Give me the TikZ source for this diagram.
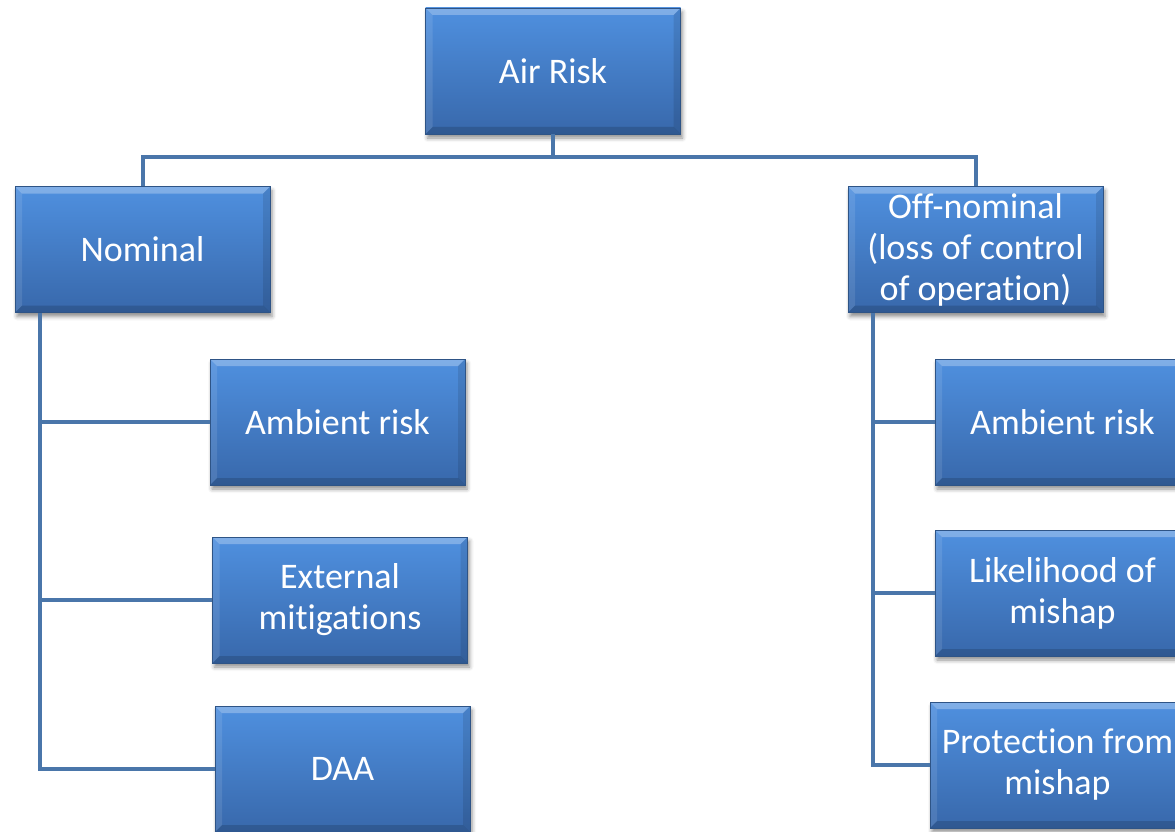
\documentclass[tikz,border=0pt]{standalone}
\usepackage{fontspec}
\setmainfont{Carlito}[RawFeature={-liga;-clig;-dlig}]
\usetikzlibrary{shadows.blur,calc}
\definecolor{boxtop}{HTML}{4F90DF}
\definecolor{boxbot}{HTML}{3868AB}
\definecolor{boxedge}{HTML}{2E5486}
\definecolor{linkblue}{HTML}{4A76AA}
\tikzset{
  box/.style={minimum width=255pt, minimum height=126pt, inner sep=0pt,
    top color=boxtop, bottom color=boxbot, draw=boxedge, line width=0.7pt,
    text=white, align=center, font=\fontsize{36}{41}\selectfont,
    blur shadow={shadow xshift=2pt, shadow yshift=-4pt, shadow blur radius=4pt, shadow opacity=45},
    path picture={
      \coordinate (pnw) at (path picture bounding box.north west);
      \coordinate (pne) at (path picture bounding box.north east);
      \coordinate (psw) at (path picture bounding box.south west);
      \coordinate (pse) at (path picture bounding box.south east);
      \fill[white, opacity=0.28] (pnw) -- (pne) -- ($(pne)+(-7pt,-7pt)$) -- ($(pnw)+(7pt,-7pt)$) -- cycle;
      \fill[white, opacity=0.10] (pnw) -- ($(pnw)+(7pt,-7pt)$) -- ($(psw)+(7pt,7pt)$) -- (psw) -- cycle;
      \fill[black, opacity=0.15] (psw) -- (pse) -- ($(pse)+(-7pt,7pt)$) -- ($(psw)+(7pt,7pt)$) -- cycle;
      \fill[black, opacity=0.10] (pne) -- (pse) -- ($(pse)+(-7pt,7pt)$) -- ($(pne)+(-7pt,-7pt)$) -- cycle;
    }},
  link/.style={draw=linkblue, line width=4pt}
}
\begin{document}
\begin{tikzpicture}[x=1pt,y=-1pt]
  \useasboundingbox (0,0) rectangle (1175,832);
  \clip (0,0) rectangle (1175,832);
  % root and the two branches
  \node[box] (air) at (553,71) {Air Risk};
  \node[box] (nom) at (142.5,249.5) {Nominal};
  \node[box] (off) at (975.5,249.5) {Off-nominal\\(loss of control\\of operation)};
  % nominal leaves
  \node[box] (nA) at (337.5,422) {Ambient risk};
  \node[box] (nE) at (340,600) {External\\mitigations};
  \node[box] (nD) at (342.5,769) {DAA};
  % off-nominal leaves
  \node[box] (oA) at (1062.5,422) {Ambient risk};
  \node[box] (oL) at (1062.5,593) {Likelihood of\\mishap};
  \node[box] (oP) at (1057.5,765) {Protection from\\mishap};
  % connectors
  \draw[link] (air.south) -- ++(0,23) -| (nom.north);
  \draw[link] (air.south) -- ++(0,23) -| (off.north);
  \draw[link] ([xshift=25pt]nom.south west) |- (nA.west);
  \draw[link] ([xshift=25pt]nom.south west) |- (nE.west);
  \draw[link] ([xshift=25pt]nom.south west) |- (nD.west);
  \draw[link] ([xshift=25pt]off.south west) |- (oA.west);
  \draw[link] ([xshift=25pt]off.south west) |- (oL.west);
  \draw[link] ([xshift=25pt]off.south west) |- (oP.west);
\end{tikzpicture}
\end{document}
